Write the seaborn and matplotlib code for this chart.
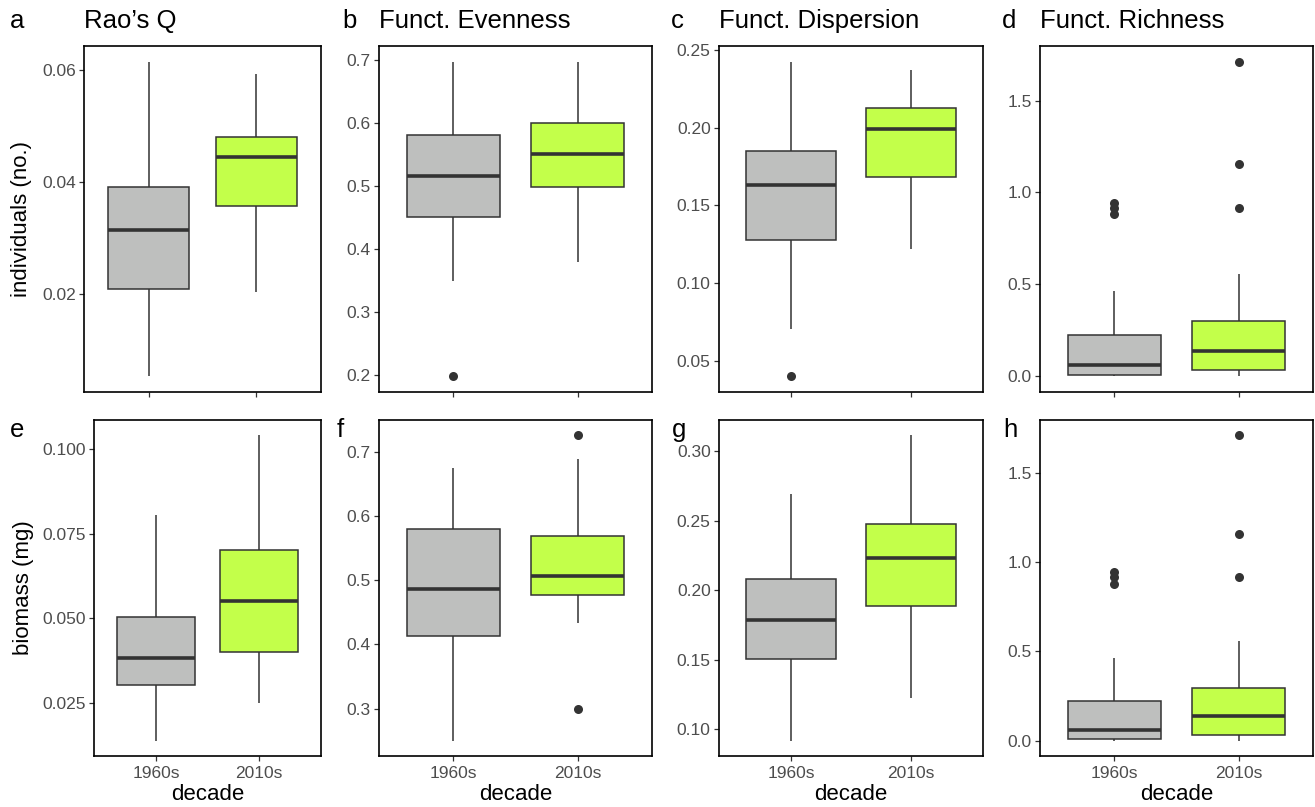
import pandas as pd
import matplotlib
matplotlib.use("Agg")
import matplotlib.pyplot as plt
import seaborn as sns

decades = ["1960s", "2010s"]
fill_colors = {"1960s": "#BEBFBE", "2010s": "#C3FF4A"}
line_color = "#333333"

# box values per decade: lower whisker, Q1, median, Q3, upper whisker
raoq_ind = {"1960s": [0.0053, 0.0209, 0.0314, 0.0391, 0.0615],
            "2010s": [0.0203, 0.0357, 0.0445, 0.0481, 0.0593]}
feve_ind = {"1960s": [0.349, 0.450, 0.515, 0.581, 0.697],
            "2010s": [0.379, 0.499, 0.551, 0.600, 0.696]}
fdis_ind = {"1960s": [0.0704, 0.1278, 0.1628, 0.1850, 0.2425],
            "2010s": [0.1218, 0.1681, 0.1992, 0.2127, 0.2371]}
fric_ind = {"1960s": [0.0, 0.009, 0.062, 0.225, 0.463],
            "2010s": [0.0, 0.034, 0.138, 0.298, 0.559]}
raoq_bio = {"1960s": [0.0137, 0.0302, 0.0381, 0.0504, 0.0804],
            "2010s": [0.0248, 0.0400, 0.0552, 0.0700, 0.1041]}
feve_bio = {"1960s": [0.250, 0.413, 0.4865, 0.580, 0.674],
            "2010s": [0.434, 0.477, 0.507, 0.569, 0.688]}
fdis_bio = {"1960s": [0.0918, 0.1507, 0.1785, 0.2080, 0.2690],
            "2010s": [0.1225, 0.1886, 0.2232, 0.2478, 0.3116]}
fric_bio = {"1960s": [0.0, 0.009, 0.062, 0.225, 0.463],
            "2010s": [0.0, 0.034, 0.138, 0.298, 0.559]}

# outliers
raoq_ind_out = {}
feve_ind_out = {"1960s": [0.198]}
fdis_ind_out = {"1960s": [0.0399]}
fric_ind_out = {"1960s": [0.880, 0.915, 0.943], "2010s": [0.917, 1.157, 1.711]}
raoq_bio_out = {}
feve_bio_out = {"2010s": [0.7256, 0.300]}
fdis_bio_out = {}
fric_bio_out = {"1960s": [0.880, 0.915, 0.943], "2010s": [0.917, 1.157, 1.711]}

# y ticks
raoq_ind_ticks = [0.02, 0.04, 0.06]
feve_ind_ticks = [0.2, 0.3, 0.4, 0.5, 0.6, 0.7]
fdis_ind_ticks = [0.05, 0.10, 0.15, 0.20, 0.25]
fric_ticks = [0.0, 0.5, 1.0, 1.5]
raoq_bio_ticks = [0.025, 0.050, 0.075, 0.100]
feve_bio_ticks = [0.3, 0.4, 0.5, 0.6, 0.7]
fdis_bio_ticks = [0.10, 0.15, 0.20, 0.25, 0.30]

titles = ["Rao\u2019s Q", "Funct. Evenness", "Funct. Dispersion", "Funct. Richness"]

sns.set_theme(style="white")
plt.rcParams["font.family"] = ["Liberation Sans", "DejaVu Sans"]
plt.rcParams["text.color"] = "black"
plt.rcParams["axes.labelcolor"] = "black"

W, H = 1315, 807
fig = plt.figure(figsize=(W / 100, H / 100), dpi=100)


def px_axes(x0, y0, x1, y1):
    return fig.add_axes([x0 / W, 1 - y1 / H, (x1 - x0) / W, (y1 - y0) / H])


def draw_panel(ax, box, out, ticks, fmt, bottom):
    df = pd.DataFrame([(d, v) for d in decades for v in box[d]],
                      columns=["decade", "value"])
    sns.boxplot(data=df, x="decade", y="value", hue="decade", order=decades,
                hue_order=decades, palette=fill_colors, saturation=1,
                legend=False, whis=(0, 100), width=0.75, linecolor=line_color,
                linewidth=1.1, showcaps=False, medianprops={"linewidth": 2.6},
                ax=ax)
    if out:
        odf = pd.DataFrame([(d, v) for d in out for v in out[d]],
                           columns=["decade", "value"])
        sns.stripplot(data=odf, x="decade", y="value", order=decades,
                      jitter=False, color=line_color, size=6.5, linewidth=0,
                      ax=ax, zorder=5)
    ax.set_xlim(-0.6, 1.6)
    ax.margins(y=0.05)
    ax.autoscale(axis="y")
    ax.set_yticks(ticks)
    ax.set_yticklabels([fmt.format(t) for t in ticks])
    for s in ax.spines.values():
        s.set_color("black")
        s.set_linewidth(1.2)
    ax.tick_params(axis="both", which="both", length=3.5, width=0.9,
                   color=line_color, labelsize=12.5, labelcolor="#4D4D4D",
                   direction="out", bottom=True, left=True, pad=2.5)
    ax.set_ylabel("")
    if bottom:
        ax.tick_params(axis="x", pad=4)
        ax.set_xlabel("decade", fontsize=16, color="black", labelpad=2)
    else:
        ax.set_xlabel("")
        ax.set_xticklabels([])


top_boxes = [(raoq_ind, raoq_ind_out, raoq_ind_ticks, "{:.2f}"),
             (feve_ind, feve_ind_out, feve_ind_ticks, "{:.1f}"),
             (fdis_ind, fdis_ind_out, fdis_ind_ticks, "{:.2f}"),
             (fric_ind, fric_ind_out, fric_ticks, "{:.1f}")]
bot_boxes = [(raoq_bio, raoq_bio_out, raoq_bio_ticks, "{:.3f}"),
             (feve_bio, feve_bio_out, feve_bio_ticks, "{:.1f}"),
             (fdis_bio, fdis_bio_out, fdis_bio_ticks, "{:.2f}"),
             (fric_bio, fric_bio_out, fric_ticks, "{:.1f}")]

top_x = [(84, 321), (379, 652), (719, 983), (1040, 1313)]
bot_x = [(94, 321), (379, 652), (719, 983), (1040, 1313)]
top_letters = ["a", "b", "c", "d"]
bot_letters = ["e", "f", "g", "h"]
top_letter_x = [10, 342, 671, 1002]
bot_letter_x = [10, 337, 672, 1003]

for i, (box, out, ticks, fmt) in enumerate(top_boxes):
    ax = px_axes(top_x[i][0], 46, top_x[i][1], 392)
    draw_panel(ax, box, out, ticks, fmt, bottom=False)
    fig.text(top_x[i][0] / W, 1 - 21 / H, titles[i], fontsize=18.5,
             ha="left", va="center", color="black")
    fig.text(top_letter_x[i] / W, 1 - 21 / H, top_letters[i], fontsize=18.5,
             ha="left", va="center", color="black")

for i, (box, out, ticks, fmt) in enumerate(bot_boxes):
    ax = px_axes(bot_x[i][0], 420, bot_x[i][1], 756)
    draw_panel(ax, box, out, ticks, fmt, bottom=True)
    fig.text(bot_letter_x[i] / W, 1 - 430 / H, bot_letters[i], fontsize=18.5,
             ha="left", va="center", color="black")

fig.text(22 / W, 1 - 219 / H, "individuals (no.)", fontsize=16, rotation=90,
         ha="center", va="center", color="black")
fig.text(23 / W, 1 - 588 / H, "biomass (mg)", fontsize=16, rotation=90,
         ha="center", va="center", color="black")

fig.savefig("out.png", dpi=100)
